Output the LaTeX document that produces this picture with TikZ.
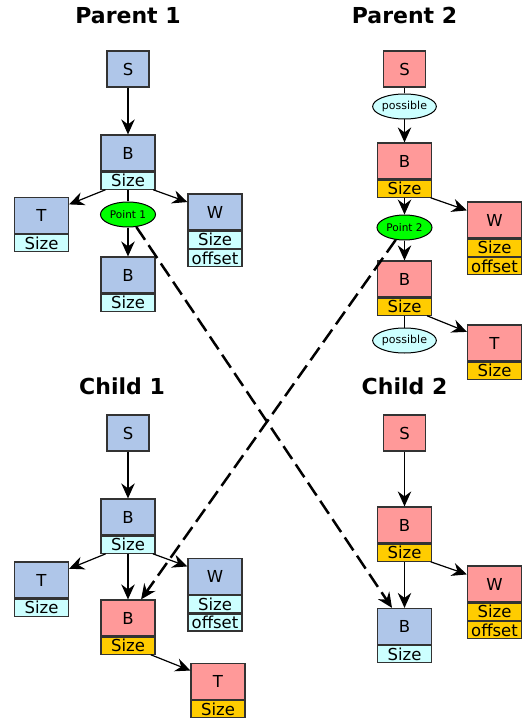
\documentclass[tikz,border=0pt]{standalone}
\usepackage{fontspec}
\setmainfont{DejaVu Sans}
\usetikzlibrary{shapes.geometric, arrows.meta}
\definecolor{boxblue}{HTML}{AFC6E9}
\definecolor{boxred}{HTML}{FF9999}
\definecolor{rowcyan}{HTML}{CCFFFF}
\definecolor{rowgold}{HTML}{FFCC00}
\definecolor{ptgreen}{HTML}{00FF00}
\definecolor{rim}{HTML}{333333}

\begin{document}
\begin{tikzpicture}[x=1pt, y=-1pt,
    head/.style={draw=rim, line width=1.2pt, minimum width=54pt, minimum height=36pt, inner sep=0pt, font=\fontsize{16.5}{18}\selectfont},
    bhead/.style={head, fill=boxblue}, rhead/.style={head, fill=boxred},
    row/.style={draw=rim, line width=1.2pt, minimum width=54pt, minimum height=17pt, inner sep=0pt, anchor=north, font=\fontsize{16.5}{18}\selectfont},
    brow/.style={row, fill=rowcyan}, rrow/.style={row, fill=rowgold},
    point/.style={ellipse, draw=black, line width=1pt, fill=ptgreen, minimum width=55pt, minimum height=25pt, inner sep=0pt, font=\fontsize{10.5}{12}\selectfont},
    maybe/.style={ellipse, draw=black, line width=1pt, fill=rowcyan, minimum width=55pt, minimum height=25pt, inner sep=0pt, font=\fontsize{11}{12}\selectfont},
    title/.style={font=\bfseries\fontsize{22}{24}\selectfont},
    link/.style={-{Stealth[length=15pt, width=13.5pt, inset=5pt]}, line width=1.2pt},
    cross/.style={link, line width=2.5pt, dash pattern=on 15.5pt off 6.5pt}]
    \useasboundingbox (0,0) rectangle (522,719);

    \node[title] (P1) at (128,15.5) {Parent 1};
    \node[bhead, minimum width=42pt] (p1s) at (128,69) {S};
    \node[bhead] (p1b) at (128,153) {B};
    \node[brow] (p1bs) at (p1b.south) {Size};
    \node[bhead] (p1t) at (41.5,215.5) {T};
    \node[brow] (p1ts) at (p1t.south) {Size};
    \node[bhead] (p1w) at (215,212) {W};
    \node[brow] (p1ws) at (p1w.south) {Size};
    \node[brow] (p1wo) at (p1ws.south) {offset};
    \node[point] (p1pt) at (128,214.5) {Point 1};
    \node[bhead] (p1b2) at (128,275) {B};
    \node[brow] (p1b2s) at (p1b2.south) {Size};
    \draw[link] (p1s) -- (p1b);
    \draw[link] (p1bs) -- (p1t);
    \draw[link] (p1bs) -- (p1w);
    \draw[line width=1.2pt] (p1bs) -- (p1pt);
    \draw[link] (p1pt) -- (p1b2);

    \node[title] (P2) at (404.5,15.5) {Parent 2};
    \node[rhead, minimum width=42pt] (p2s) at (404.5,69) {S};
    \node[maybe] (p2o1) at (404.5,106.5) {possible};
    \node[rhead] (p2b) at (404.5,161) {B};
    \node[rrow] (p2bs) at (p2b.south) {Size};
    \node[point] (p2pt) at (404.5,227.5) {Point 2};
    \node[rhead] (p2b2) at (404.5,279) {B};
    \node[rrow] (p2b2s) at (p2b2.south) {Size};
    \node[maybe] (p2o2) at (404.5,340.5) {possible};
    \node[rhead] (p2w) at (494.5,220) {W};
    \node[rrow] (p2ws) at (p2w.south) {Size};
    \node[rrow] (p2wo) at (p2ws.south) {offset};
    \node[rhead] (p2t) at (494.5,343) {T};
    \node[rrow] (p2ts) at (p2t.south) {Size};
    \draw[line width=1.2pt] (p2s) -- (p2o1);
    \draw[link] (p2o1) -- (p2b);
    \draw[link] (p2bs) -- (p2pt);
    \draw[link] (p2pt) -- (p2b2);
    \draw[link] (p2bs) -- (p2w);
    \draw[link] (p2b2s) -- (p2t);
    \draw[line width=1.2pt] (p2b2s) -- (p2o2);

    \node[title] (C1) at (122,386.5) {Child 1};
    \node[bhead, minimum width=42pt] (c1s) at (128,433) {S};
    \node[bhead] (c1b) at (128,517) {B};
    \node[brow] (c1bs) at (c1b.south) {Size};
    \node[bhead] (c1t) at (41.5,580) {T};
    \node[brow] (c1ts) at (c1t.south) {Size};
    \node[bhead] (c1w) at (215,576.5) {W};
    \node[brow] (c1ws) at (c1w.south) {Size};
    \node[brow] (c1wo) at (c1ws.south) {offset};
    \node[rhead] (c1b2) at (128,618) {B};
    \node[rrow] (c1b2s) at (c1b2.south) {Size};
    \node[rhead] (c1t2) at (218,681.5) {T};
    \node[rrow] (c1t2s) at (c1t2.south) {Size};
    \draw[link] (c1s) -- (c1b);
    \draw[link] (c1bs) -- (c1t);
    \draw[link] (c1bs) -- (c1w);
    \draw[link] (c1bs) -- (c1b2);
    \draw[link] (c1b2s) -- (c1t2);

    \node[title] (C2) at (404.5,386.5) {Child 2};
    \node[rhead, minimum width=42pt] (c2s) at (404.5,433) {S};
    \node[rhead] (c2b) at (404.5,525) {B};
    \node[rrow] (c2bs) at (c2b.south) {Size};
    \node[rhead] (c2w) at (494.5,584) {W};
    \node[rrow] (c2ws) at (c2w.south) {Size};
    \node[rrow] (c2wo) at (c2ws.south) {offset};
    \node[bhead] (c2b2) at (404.5,626.5) {B};
    \node[brow] (c2b2s) at (c2b2.south) {Size};
    \draw[link] (c2s) -- (c2b);
    \draw[link] (c2bs) -- (c2b2);
    \draw[link] (c2bs) -- (c2w);

    \draw[cross] (p1pt) -- (c2b2);
    \draw[cross] (p2pt) -- (c1b2);
\end{tikzpicture}
\end{document}
